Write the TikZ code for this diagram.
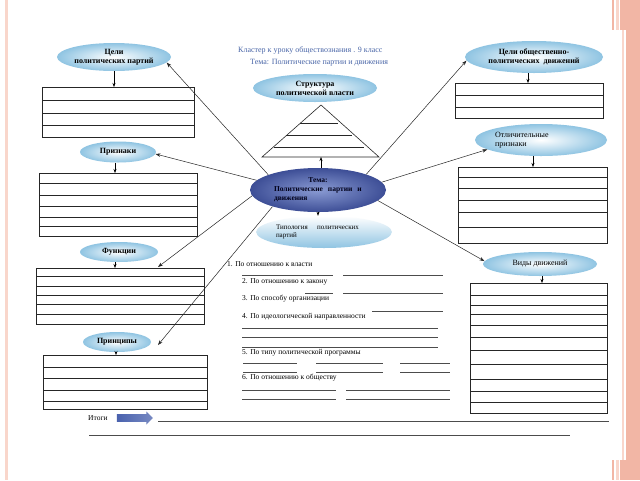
\documentclass[tikz,border=0pt]{standalone}
\usepackage{fontspec}
\setmainfont{Liberation Serif}
\usetikzlibrary{shapes.geometric,shapes.arrows,arrows.meta}
\definecolor{pinkb}{HTML}{F2B6A5}
\definecolor{pinkl}{HTML}{F9D6CB}
\definecolor{titleblue}{HTML}{4A66A8}
\definecolor{ellout}{HTML}{8FC4E2}
\definecolor{darkout}{HTML}{3D4E96}
\definecolor{darkin}{HTML}{8A9BD3}
\definecolor{arrowblue}{HTML}{4A62AE}
\tikzset{
  lbell/.style={ellipse, inner sep=0pt, inner color=white, outer color=ellout, align=center,
    font=\fontsize{8}{9}\selectfont\bfseries},
  plainell/.style={lbell, font=\fontsize{8}{9}\selectfont},
  rowbox/.style={draw=black!85, line width=0.6pt, anchor=north west, inner sep=0pt},
  rowline/.style={draw=black!85, line width=0.5pt},
  arr/.style={-{Stealth[length=4pt,width=3pt]}, line width=0.5pt},
  ray/.style={-{Stealth[length=5pt,width=3.5pt]}, line width=0.5pt, black!85},
  listtxt/.style={anchor=west, inner sep=0pt, font=\fontsize{7.5}{8}\selectfont},
  fillline/.style={draw=black!70, line width=0.5pt},
  titletxt/.style={anchor=west, inner sep=0pt, text=titleblue, font=\fontsize{8}{9}\selectfont}
}
\begin{document}
\begin{tikzpicture}[x=1pt,y=-1pt]
\useasboundingbox (0,0) rectangle (640,480);
\fill[white] (0,0) rectangle (640,480);
% slide decoration
\fill[pinkl] (5,0) rectangle (8,480);
\fill[pinkb] (626,0) rectangle (640,480);
\fill[pinkl] (622,0) rectangle (624,480);
\foreach \ya/\yb in {0/30,460/480}{
  \fill[pinkb] (612,\ya) rectangle (614,\yb);
  \fill[pinkl] (616,\ya) rectangle (619,\yb);
  \fill[pinkb] (620,\ya) rectangle (626,\yb);
}
% titles
\node[titletxt] (t1) at (238,50) {Кластер к уроку обществознания . 9 класс};
\node[titletxt] (t2) at (250,63) {Тема: Политические партии и движения};

% ellipses
\node[lbell, minimum width=114pt, minimum height=28pt] (e1) at (114,57) {Цели\\политических партий};
\node[lbell, minimum width=138pt, minimum height=32pt] (e2) at (534,57) {Цели общественно-\\политических\ \ движений};
\node[lbell, minimum width=124pt, minimum height=28pt] (e3) at (315,88) {Структура\\политической власти};
\node[lbell, minimum width=76pt, minimum height=21pt] (e4) at (118,152) {Признаки};
\node[ellipse, inner sep=0pt, inner color=darkin, outer color=darkout, minimum width=136pt, minimum height=44pt,
  text width=88pt, align=left, font=\fontsize{7.5}{9}\selectfont\bfseries, text=black!90!blue] (e5) at (318,190)
  {\makebox[88pt][c]{Тема:}\\Политические\ \ партии\ \ и\\движения};
\node[plainell, minimum width=132pt, minimum height=32pt, text width=92pt, align=left] (e6) at (541,140) {Отличительные\\признаки};
\node[ellipse, inner sep=0pt, top color=white, bottom color=ellout, minimum width=130pt, minimum height=32pt,
  text width=96pt, align=left, font=\fontsize{7}{8.5}\selectfont] (e7) at (324,232) {Типология\ \ \ \ политических\\партий};
\node[lbell, minimum width=78pt, minimum height=20pt] (e8) at (119,252) {Функции};
\node[plainell, minimum width=114pt, minimum height=24pt] (e9) at (540,264) {Виды движений};
\node[lbell, minimum width=68pt, minimum height=20pt] (e10) at (117,342) {Принципы};

% boxes with rows
\node[rowbox, minimum width=152pt, minimum height=50pt] (bA) at (42,87) {};
\foreach \y in {100,113,125} \draw[rowline] (42,\y) -- (194,\y);
\node[rowbox, minimum width=148pt, minimum height=35pt] (bB) at (455,83) {};
\foreach \y in {95,107} \draw[rowline] (455,\y) -- (603,\y);
\node[rowbox, minimum width=149pt, minimum height=76pt] (bC) at (458,167) {};
\foreach \y in {177,188,200,212,227} \draw[rowline] (458,\y) -- (607,\y);
\node[rowbox, minimum width=158pt, minimum height=63pt] (bF) at (39,173) {};
\foreach \y in {183,195,206,217,226} \draw[rowline] (39,\y) -- (197,\y);
\node[rowbox, minimum width=168pt, minimum height=56pt] (bG) at (36,268) {};
\foreach \y in {276,286,295,304,314} \draw[rowline] (36,\y) -- (204,\y);
\node[rowbox, minimum width=164pt, minimum height=54pt] (bE) at (43,355) {};
\foreach \y in {367,378,390,401} \draw[rowline] (43,\y) -- (207,\y);
\node[rowbox, minimum width=137pt, minimum height=130pt] (bD) at (470,283) {};
\foreach \y in {295,305,314,325,337,350,364,379,391,402} \draw[rowline] (470,\y) -- (607,\y);

% pyramid
\coordinate (apex) at (321,105);
\coordinate (bl) at (262,157);
\coordinate (br) at (379,157);
\draw[line width=0.6pt, black!85] (apex) -- (bl) -- (br) -- cycle;
\draw[rowline] (300,123) -- (338,123);
\draw[rowline] (286,135) -- (352,135);
\draw[rowline] (274,147) -- (364,147);

% short arrows
\draw[arr] (e1.south) -- (e1.south |- bA.north);
\draw[arr] ([xshift=-6pt]e2.south) -- ([xshift=-6pt]e2.south |- bB.north);
\draw[arr] ([xshift=-8pt]e6.south) -- ([xshift=-8pt]e6.south |- bC.north);
\draw[arr] ([xshift=-3pt]e4.south) -- ([xshift=-3pt]e4.south |- bF.north);
\draw[arr] ([xshift=-4pt]e8.south) -- ([xshift=-4pt]e8.south |- bG.north);
\draw[arr] ([xshift=-1pt]e10.south) -- ([xshift=-1pt]e10.south |- bE.north);
\draw[arr] ([xshift=2pt]e9.south) -- ([xshift=2pt]e9.south |- bD.north);
\draw[arr] ([xshift=3pt]e5.north) -- ([xshift=3pt]e5.north |- bl);
\draw[arr] (e5.south) -- (e5.south |- e7.north);

% rays from the centre
\coordinate (fa) at (158,267);
\coordinate (pa) at (158,345);
\draw[ray] (e5.163) -- (e1.-6);
\draw[ray] (e5.171) -- (e4.-3);
\draw[ray] (e5.185) -- (fa);
\draw[ray] (e5.200) -- (pa);
\draw[ray] (e5.18) -- (e2.183);
\draw[ray] (e5.7) -- (e6.190);
\draw[ray] (e5.350) -- (e9.177);

% typology list
\node[listtxt] (l1) at (227,264) {1. По отношению к власти};
\node[listtxt] (l2) at (242,282) {2. По отношению к закону};
\node[listtxt] (l3) at (242,299) {3. По способу организации};
\node[listtxt] (l4) at (242,317) {4. По идеологической направленности};
\node[listtxt] (l5) at (242,353) {5. По типу политической программы};
\node[listtxt] (l6) at (242,378) {6. По отношению к обществу};
\draw[fillline] (242,275) -- (333,275);  \draw[fillline] (343,275) -- (443,275);
\draw[fillline] (305,293) -- (333,293);  \draw[fillline] (343,293) -- (443,293);
\draw[fillline] (372,311) -- (443,311);
\foreach \y in {328,337,347} \draw[fillline] (242,\y) -- (438,\y);
\foreach \y in {363,372}{
  \draw[fillline] (243,\y) -- (297,\y);
  \draw[fillline] (316,\y) -- (383,\y);
  \draw[fillline] (400,\y) -- (450,\y);
}
\foreach \y in {390,399}{
  \draw[fillline] (242,\y) -- (336,\y);
  \draw[fillline] (346,\y) -- (450,\y);
}

% results
\node[listtxt] (it) at (88,418) {Итоги};
\node[single arrow, draw=none, left color=arrowblue, right color=arrowblue!75!white, inner sep=3.5pt,
  minimum height=36pt, minimum width=13pt, single arrow head extend=2.5pt] (ia) at (133,418) {};
\draw[fillline] (158,421) -- (609,421);
\draw[fillline] (89,435) -- (570,435);
\end{tikzpicture}
\end{document}
